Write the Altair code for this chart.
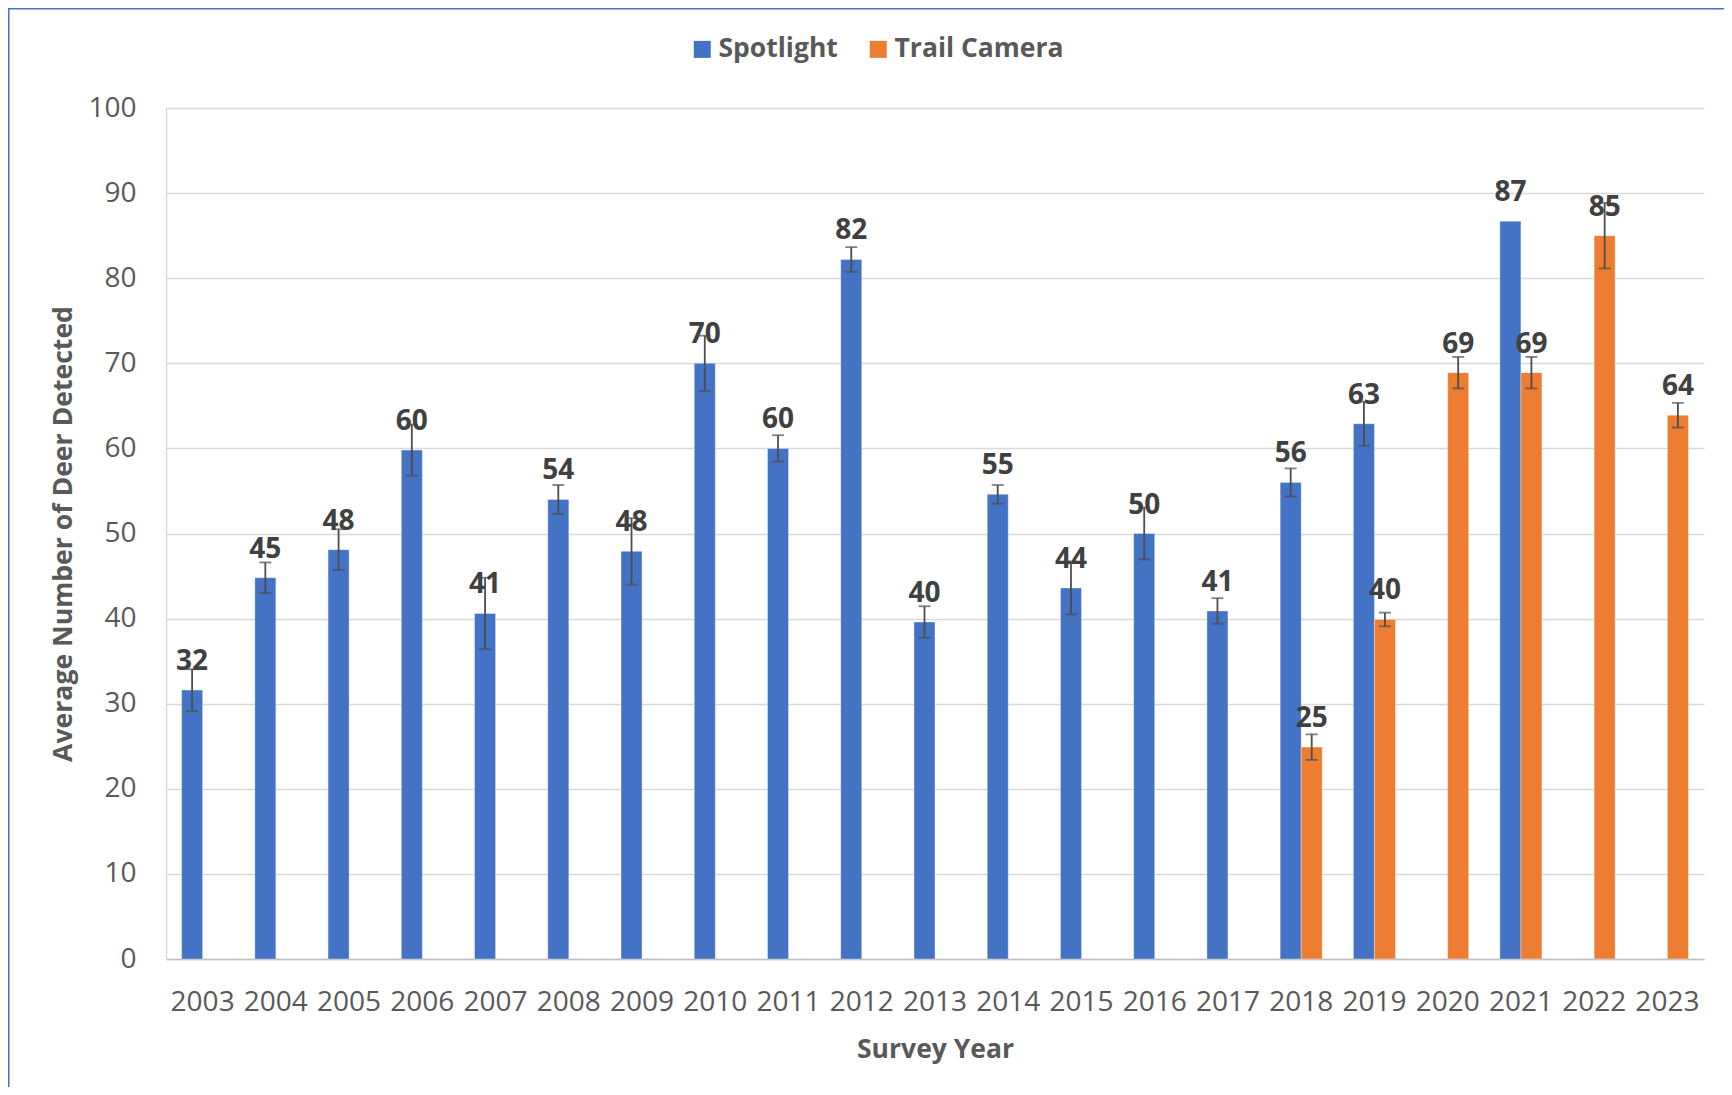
import altair as alt
import pandas as pd

years = [str(y) for y in range(2003, 2024)]
series = ["Spotlight", "Trail Camera"]
colors = ["#4472C4", "#ED7D31"]

spot_vals = [31.6, 44.8, 48.1, 59.8, 40.6, 54.0, 47.9, 70.0, 60.0, 82.2, 39.6,
             54.6, 43.6, 50.0, 40.9, 56.0, 62.9, None, 86.7, None, None]
spot_err = [2.45, 1.8, 2.4, 3.0, 4.2, 1.7, 3.9, 3.25, 1.55, 1.45, 1.85,
            1.1, 3.1, 3.05, 1.5, 1.65, 2.6, None, None, None, None]
trail_vals = [None] * 15 + [24.9, 39.9, 68.9, 68.9, 85.0, 63.9]
trail_err = [None] * 15 + [1.5, 0.8, 1.85, 1.85, 3.85, 1.45]

rows = []
for name, vals, errs in [("Spotlight", spot_vals, spot_err), ("Trail Camera", trail_vals, trail_err)]:
    for yr, v, e in zip(years, vals, errs):
        if v is None:
            continue
        rows.append({
            "year": yr, "series": name, "value": v,
            "lo": v - e if e is not None else None,
            "hi": v + e if e is not None else None,
        })
df = pd.DataFrame(rows)

W, H = 1538, 851
FONT = "Open Sans"
GRAY = "#595959"

x_enc = alt.X("year:N", sort=years,
              scale=alt.Scale(domain=years, paddingInner=0.426, paddingOuter=0.213),
              axis=alt.Axis(labelAngle=0, labelFont=FONT, labelFontSize=28, labelColor=GRAY,
                            labelPadding=29, ticks=False, tickSize=0,
                            domainColor="#BFBFBF", domainWidth=1.5,
                            title="Survey Year", titleFont=FONT, titleFontSize=26.5,
                            titleFontWeight="bold", titleColor=GRAY,
                            titleY=98, titleBaseline="alphabetic"))
xo_enc = alt.XOffset("series:N", scale=alt.Scale(domain=series, paddingInner=0, paddingOuter=0))

base = alt.Chart(df).encode(x=x_enc, xOffset=xo_enc)

bars = base.mark_bar(stroke="white", strokeWidth=0.8, strokeOpacity=0.45).encode(
    y=alt.Y("value:Q", scale=alt.Scale(domain=[0, 100], nice=False),
            axis=alt.Axis(values=list(range(0, 101, 10)), grid=True, gridColor="#D9D9D9",
                          gridWidth=1.5, domain=True, domainColor="#D9D9D9", domainWidth=1.5,
                          ticks=False, tickSize=0, labelFont=FONT, labelFontSize=28,
                          labelColor=GRAY, labelPadding=30,
                          title="Average Number of Deer Detected", titleFont=FONT,
                          titleFontSize=26.6, titleFontWeight="bold", titleColor=GRAY,
                          titleX=-103, titleY=H / 2, titleBaseline="middle")),
    color=alt.Color("series:N", scale=alt.Scale(domain=series, range=colors),
                    legend=alt.Legend(orient="none", legendX=523, legendY=-72,
                                      direction="horizontal", title=None,
                                      symbolType="square", symbolSize=289,
                                      symbolStrokeWidth=0, symbolOpacity=1,
                                      labelFont=FONT, labelFontSize=26.5,
                                      labelFontWeight="bold", labelColor=GRAY,
                                      labelLimit=400,
                                      labelOffset=3, columnPadding=27, padding=0)),
)

err_base = base.transform_filter("isValid(datum.lo)")
err_line = err_base.mark_rule(color="#4D4D4D", strokeWidth=1.8).encode(
    y="lo:Q", y2="hi:Q")
cap_lo = err_base.mark_tick(color="#4D4D4D", size=12, thickness=1.8).encode(y="lo:Q")
cap_hi = err_base.mark_tick(color="#4D4D4D", size=12, thickness=1.8).encode(y="hi:Q")

labels = base.mark_text(font=FONT, fontSize=28, fontWeight="bold", color="#404040",
                        baseline="alphabetic", dy=-20).encode(
    y="value:Q", text=alt.Text("value:Q", format=".0f"))

frame_df = pd.DataFrame({"k": [0]})
frame_top = alt.Chart(frame_df).mark_rule(color="#4472C4", strokeWidth=1.5).encode(
    x=alt.value(-158), x2=alt.value(W + 20), y=alt.value(-99.25))
frame_left = alt.Chart(frame_df).mark_rule(color="#4472C4", strokeWidth=1.5).encode(
    x=alt.value(-157.25), y=alt.value(-100), y2=alt.value(H + 128))

chart = alt.layer(bars, err_line, cap_lo, cap_hi, labels, frame_top, frame_left).properties(
    width=W, height=H,
    autosize=alt.AutoSizeParams(type="none"),
    padding={"left": 158, "top": 100, "right": 20, "bottom": 128},
    background="white",
).configure_view(stroke=None)

chart.save("out.html", embed_options={"renderer": "svg", "actions": False})
